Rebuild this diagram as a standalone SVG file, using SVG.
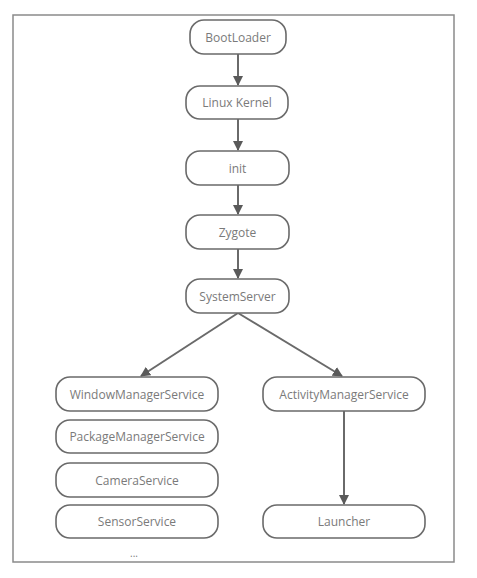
<svg xmlns="http://www.w3.org/2000/svg" width="477" height="578" viewBox="0 0 477 578">
<defs>
<style>
.n rect{fill:#fff;stroke:#6a6a6a;stroke-width:1.6}
.n text{font-family:"Open Sans","Noto Sans",sans-serif;font-size:12px;fill:#7a7a7a;text-anchor:middle;dominant-baseline:central}
.c line{stroke:#6a6a6a;stroke-width:2}
</style>
<marker id="ah" viewBox="0 0 10 10" refX="9" refY="5" markerWidth="5" markerHeight="5" markerUnits="strokeWidth" orient="auto">
<path d="M0,0 L10,5 L0,10 z" fill="#5a5a5a"/>
</marker>
</defs>
<rect x="0" y="0" width="477" height="578" fill="#fff"/>
<rect x="13" y="15" width="441" height="547" fill="none" stroke="#8a8a8a" stroke-width="1.5"/>
<g class="c">
<line x1="238" y1="54" x2="238" y2="85" marker-end="url(#ah)"/>
<line x1="238" y1="119" x2="238" y2="150" marker-end="url(#ah)"/>
<line x1="238" y1="185" x2="238" y2="214" marker-end="url(#ah)"/>
<line x1="238" y1="249" x2="238" y2="278" marker-end="url(#ah)"/>
<line x1="238" y1="313" x2="141" y2="376" marker-end="url(#ah)"/>
<line x1="238" y1="313" x2="342" y2="376" marker-end="url(#ah)"/>
<line x1="344" y1="411" x2="344" y2="504" marker-end="url(#ah)"/>
</g>
<g id="bootloader" class="n"><rect x="190" y="20" width="96" height="34" rx="14"/><text x="238" y="37">BootLoader</text></g>
<g id="kernel" class="n"><rect x="186" y="86" width="102" height="33" rx="14"/><text x="237" y="102.5">Linux Kernel</text></g>
<g id="init" class="n"><rect x="186" y="151" width="103" height="34" rx="14"/><text x="237.5" y="168">init</text></g>
<g id="zygote" class="n"><rect x="186" y="215" width="103" height="34" rx="14"/><text x="237.5" y="232">Zygote</text></g>
<g id="systemserver" class="n"><rect x="186" y="279" width="103" height="34" rx="14"/><text x="237.5" y="296">SystemServer</text></g>
<g id="wms" class="n"><rect x="56" y="377" width="162" height="34" rx="14"/><text x="137" y="394">WindowManagerService</text></g>
<g id="pms" class="n"><rect x="56" y="420" width="162" height="33" rx="14"/><text x="137" y="436.5">PackageManagerService</text></g>
<g id="camera" class="n"><rect x="56" y="463" width="162" height="34" rx="14"/><text x="137" y="480">CameraService</text></g>
<g id="sensor" class="n"><rect x="56" y="505" width="162" height="33" rx="14"/><text x="137" y="521.5">SensorService</text></g>
<g id="ams" class="n"><rect x="263" y="377" width="162" height="34" rx="14"/><text x="344" y="394">ActivityManagerService</text></g>
<g id="launcher" class="n"><rect x="263" y="505" width="162" height="33" rx="14"/><text x="344" y="521.5">Launcher</text></g>
<g id="more"><text x="134" y="557" font-family="'Open Sans','Noto Sans',sans-serif" font-size="10" fill="#7a7a7a" text-anchor="middle">...</text></g>
</svg>
